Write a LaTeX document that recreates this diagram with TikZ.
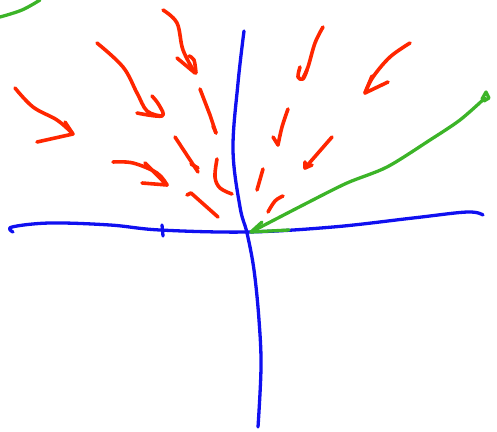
\documentclass[tikz,border=0pt]{standalone}
\begin{document}
\begin{tikzpicture}[x=1pt,y=-1pt,
  penred/.style={draw={rgb,255:red,255;green,38;blue,0},line width=3.6pt,line cap=round,line join=round},
  penblue/.style={draw={rgb,255:red,16;green,16;blue,240},line width=3.3pt,line cap=round,line join=round},
  pengreen/.style={draw={rgb,255:red,60;green,180;blue,40},line width=3.3pt,line cap=round,line join=round}]
\useasboundingbox (0,0) rectangle (497,431);
% axes
\draw[penblue] plot[smooth,tension=0.6] coordinates {(13,232) (12,227) (50,223) (110,225) (160,230) (247,232) (333,227) (413,218) (467,212) (483,215)};
\draw[penblue] (162,225) -- (163,236);
\draw[penblue] plot[smooth,tension=0.6] coordinates {(244,31) (238,83) (233,150) (240,207) (247,233) (254,270) (259,320) (261,367) (258,427)};
% green
\draw[pengreen] plot[smooth,tension=0.6] coordinates {(0,17) (22,10) (40,0)};
\draw[pengreen] plot[smooth,tension=0.5] coordinates {(485,98) (460,120) (430,140) (387,167) (347,183) (307,203) (251,232)};
\draw[pengreen] (262,222) -- (251,232) -- (289,230);
\draw[pengreen] (482,99) -- (486,92) -- (489,98) -- (484,101);
% red arrows, left side
\draw[penred] plot[smooth,tension=0.6] coordinates {(15,88) (33,107) (57,120) (72,133)};
\draw[penred] (65,122) -- (73,134) -- (37,142);
\draw[penred] plot[smooth,tension=0.6] coordinates {(97,43) (123,67) (137,93) (147,111) (161,116)};
\draw[penred] plot[smooth,tension=0.6] coordinates {(152,96) (159,105) (162,116) (137,113)};
\draw[penred] plot[smooth,tension=0.6] coordinates {(163,10) (177,23) (183,50) (195,73)};
\draw[penred] (177,58) -- (195,73);
\draw[penred] plot[smooth,tension=0.6] coordinates {(189,56) (194,60) (196,73)};
\draw[penred] (200,89) -- (210,115) -- (216,133);
\draw[penred] (213,126) -- (216,133);
\draw[penred] (175,137) -- (198,172);
\draw[penred] (191,164) -- (198,168);
\draw[penred] plot[smooth,tension=0.6] coordinates {(113,162) (133,163) (157,173) (167,185)};
\draw[penred] (145,163) -- (167,185) -- (142,183);
\draw[penred] plot[smooth,tension=0.6] coordinates {(217,159) (215,177) (220,188) (232,194)};
\draw[penred] (187,195) -- (191,193) -- (218,217);
% red arrows, right side
\draw[penred] plot[smooth,tension=0.6] coordinates {(323,27) (315,43) (308,67) (303,78)};
\draw[penred] plot[smooth,tension=0.6] coordinates {(300,67) (298,77) (303,79) (307,70)};
\draw[penred] plot[smooth,tension=0.6] coordinates {(410,43) (390,57) (373,77) (365,93)};
\draw[penred] (372,76) -- (365,93) -- (388,82);
\draw[penred] plot[smooth,tension=0.6] coordinates {(288,109) (282,127) (278,145)};
\draw[penred] (273,137) -- (278,145);
\draw[penred] (332,137) -- (305,168);
\draw[penred] (305,162) -- (305,168) -- (312,165);
\draw[penred] (263,169) -- (257,190);
\draw[penred] plot[smooth,tension=0.6] coordinates {(283,196) (275,201) (268,212)};
\end{tikzpicture}
\end{document}
